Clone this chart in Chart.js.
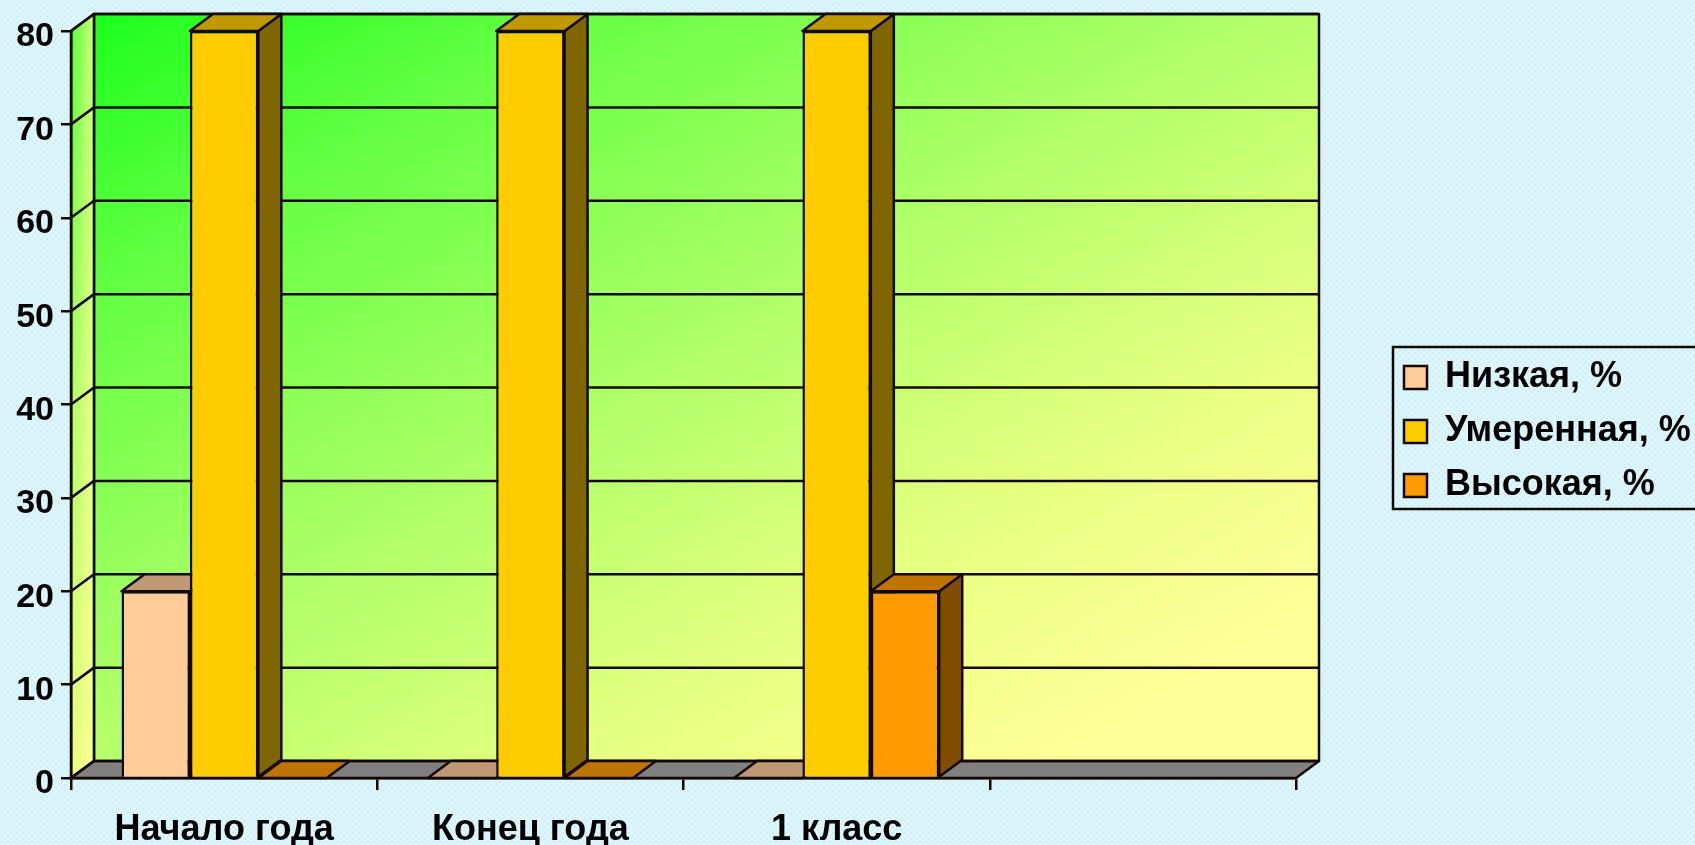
<!DOCTYPE html>
<html><head><meta charset="utf-8">
<style>
html,body{margin:0;padding:0;width:1695px;height:845px;overflow:hidden;background-color:#dcf6fc;
background-image:radial-gradient(circle at 2px 2px,#cdeef6 0,#cdeef6 1.2px,transparent 1.6px),radial-gradient(circle at 5px 5px,#cdeef6 0,#cdeef6 1.2px,transparent 1.6px);background-size:6px 6px}
#w{position:absolute;left:0;top:0;width:1695px;height:845px}
</style>
<script src="https://cdn.jsdelivr.net/npm/chart.js@4"></script>
</head><body><div id="w"><canvas id="c" width="1695" height="845"></canvas></div>
<script>
const categories = ['Начало года','Конец года','1 класс',''];
const seriesLow = [20,0,0,null];
const seriesMid = [80,80,80,null];
const seriesHigh = [0,0,20,null];
const yTicks = [0,10,20,30,40,50,60,70,80];
const DX=23, DY=17, INK='#120800', LW=2.5;
function poly(ctx,pts,fill){ctx.beginPath();pts.forEach((p,i)=>i?ctx.lineTo(p[0],p[1]):ctx.moveTo(p[0],p[1]));ctx.closePath();if(fill){ctx.fillStyle=fill;ctx.fill();}ctx.lineWidth=LW;ctx.strokeStyle=INK;ctx.lineJoin='round';ctx.stroke();}
function shade(hex,k){const n=parseInt(hex.slice(1),16);return 'rgb('+[(n>>16)&255,(n>>8)&255,n&255].map(v=>Math.round(v*k)).join(',')+')';}
const scene={id:'scene',
 afterLayout(chart){const l=chart.legend;const p=l.options.labels.padding;l.left=1404-p;l.right=1700;l.top=341.5;l.bottom=845;},
 beforeDatasetsDraw(chart){
  const ctx=chart.ctx,a=chart.chartArea,y=chart.scales.y;
  ctx.save();
  const L=a.left,R=a.right,T=a.top,B=a.bottom;
  const x0=L+DX,y0=T-DY,W=R-L,H=B-T;
  const n=Math.hypot(H,W),dx=H/n,dy=W/n,hl=W*H/n,cx=x0+W/2,cy=y0+H/2;
  const g=ctx.createLinearGradient(cx-dx*hl,cy-dy*hl,cx+dx*hl,cy+dy*hl);
  g.addColorStop(0,'#1cff1c');g.addColorStop(.2,'#66ff44');g.addColorStop(.45,'#aaff66');g.addColorStop(.7,'#e6ff80');g.addColorStop(.9,'#ffff99');g.addColorStop(1,'#ffff99');
  ctx.fillStyle=g;ctx.fillRect(x0,y0,W,H);
  const sg=ctx.createLinearGradient(0,T-DY,0,B);
  sg.addColorStop(0,'#4cff30');sg.addColorStop(.5,'#a8ff60');sg.addColorStop(1,'#e8ff80');
  poly(ctx,[[L,T],[x0,y0],[x0,y0+H],[L,B]],sg);
  const sh=ctx.createLinearGradient(L,0,x0,0);
  sh.addColorStop(0,'rgba(255,255,153,0)');sh.addColorStop(1,'rgba(255,255,153,.75)');
  ctx.beginPath();ctx.moveTo(L,T);ctx.lineTo(x0,y0);ctx.lineTo(x0,y0+H);ctx.lineTo(L,B);ctx.closePath();ctx.fillStyle=sh;ctx.fill();
  poly(ctx,[[L,B],[x0,y0+H],[x0+W,y0+H],[R,B]],'#808080');
  ctx.strokeStyle=INK;ctx.lineWidth=LW;ctx.strokeRect(x0,y0,W,H);
  yTicks.forEach(v=>{const py=y.getPixelForValue(v);ctx.beginPath();ctx.moveTo(L,py);ctx.lineTo(x0,py-DY);if(v>0)ctx.lineTo(x0+W,py-DY);ctx.stroke();});
  chart.data.datasets.forEach((ds,di)=>{
   chart.getDatasetMeta(di).data.forEach((b,i)=>{
    if(ds.data[i]===null)return;
    const p=b.getProps(['x','y','base','width'],true);
    const l=p.x-p.width/2,r=p.x+p.width/2,t=p.y,bo=p.base;
    if(ds.data[i]>0)poly(ctx,[[r,t],[r+DX,t-DY],[r+DX,bo-DY],[r,bo]],shade(ds.backgroundColor,.5));
    poly(ctx,[[l,t],[l+DX,t-DY],[r+DX,t-DY],[r,t]],shade(ds.backgroundColor,.75));
   });
  });
  ctx.restore();
 },
 afterDraw(chart){
  const ctx=chart.ctx;ctx.save();ctx.strokeStyle=INK;ctx.lineWidth=LW;
  ctx.strokeRect(1393,347,320,162);ctx.restore();
 }
};
new Chart(document.getElementById('c'),{
 type:'bar',
 data:{labels:categories,datasets:[
  {label:'Низкая, %',data:seriesLow,backgroundColor:'#ffcc99',borderColor:INK,borderWidth:LW},
  {label:'Умеренная, %',data:seriesMid,backgroundColor:'#ffcc00',borderColor:INK,borderWidth:LW},
  {label:'Высокая, %',data:seriesHigh,backgroundColor:'#ff9900',borderColor:INK,borderWidth:LW}
 ]},
 options:{responsive:false,animation:false,
  layout:{padding:{left:0,top:31,right:399,bottom:0}},
  datasets:{bar:{categoryPercentage:.67,barPercentage:1}},
  plugins:{tooltip:{enabled:false},title:{display:false},
   legend:{position:'chartArea',align:'start',labels:{boxWidth:23,boxHeight:23,padding:18,color:'#000',
     font:{family:'"Liberation Sans"',size:36,weight:'bold'}}}},
  scales:{
   x:{grid:{display:true,drawOnChartArea:false,drawTicks:true,tickLength:12,color:INK,lineWidth:LW,z:1},
      border:{display:true,color:INK,width:LW,z:1},
      ticks:{color:'#000',autoSkip:false,maxRotation:0,padding:18,z:1,font:{family:'"Liberation Sans"',size:36,weight:'bold'}},
      afterFit(s){s.height=67;}},
   y:{min:0,max:80,
      grid:{display:true,drawOnChartArea:false,drawTicks:true,tickLength:10,color:INK,lineWidth:LW,z:1},
      border:{display:true,color:INK,width:LW,z:1},
      ticks:{stepSize:10,color:'#000',padding:7,labelOffset:6,z:1,font:{family:'"Liberation Sans"',size:34,weight:'bold'}},
      afterFit(s){s.width=71;}}
  }
 },
 plugins:[scene]
});
</script></body></html>
